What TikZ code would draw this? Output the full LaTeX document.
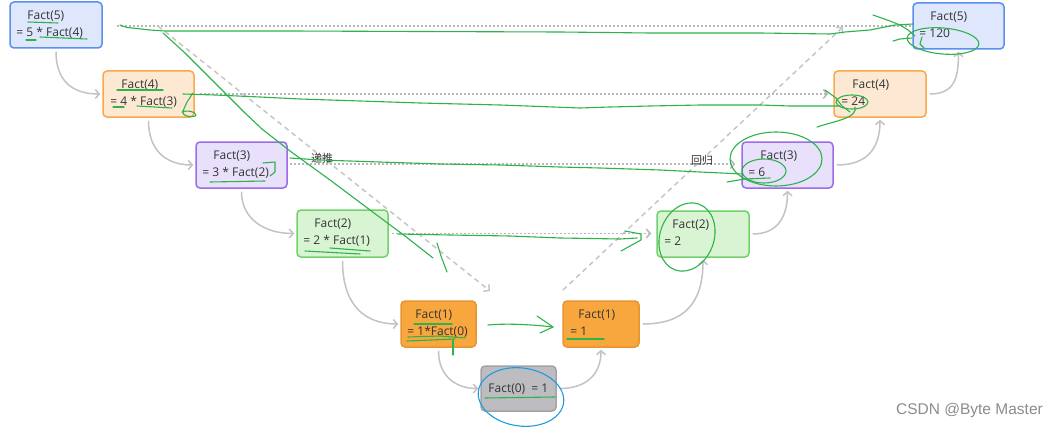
\documentclass[tikz,border=0pt]{standalone}
\usepackage{fontspec}
\setmainfont{Open Sans}
\newfontfamily\cjk{Noto Sans CJK SC}
\newfontfamily\wmfont{Liberation Sans}
\usetikzlibrary{arrows.meta,calc,fit}
\definecolor{bluef}{HTML}{DEE7FC}\definecolor{blued}{HTML}{5B8FF0}
\definecolor{lof}{HTML}{FDE8D3}\definecolor{lod}{HTML}{F8A94B}
\definecolor{purf}{HTML}{E9E0FB}\definecolor{purd}{HTML}{9B6BE8}
\definecolor{grnf}{HTML}{D9F4D3}\definecolor{grnd}{HTML}{73D16B}
\definecolor{orf}{HTML}{F8A63E}\definecolor{ord}{HTML}{E9952F}
\definecolor{gryf}{HTML}{BDBDC1}\definecolor{gryd}{HTML}{A3A3A7}
\definecolor{textc}{HTML}{333333}
\definecolor{conc}{HTML}{C3C3C7}
\definecolor{dotc}{HTML}{B9B9BD}
\definecolor{dashc}{HTML}{C6C6CA}
\definecolor{grn}{HTML}{2DB34A}
\definecolor{blu}{HTML}{1E9BE0}
\newcommand\twolines[5]{%
  \node[txt] (#1a) at ($(#1.north west)+(#2,18)$) {#4};
  \node[txt] (#1b) at ($(#1.north west)+(#3,35)$) {#5};}
\begin{document}
\begin{tikzpicture}[x=1pt,y=-1pt,
  box/.style={draw, rounded corners=4pt, line width=1.5pt, inner sep=0pt},
  bluebox/.style={box, fill=bluef, draw=blued},
  lobox/.style={box, fill=lof, draw=lod},
  purbox/.style={box, fill=purf, draw=purd},
  grnbox/.style={box, fill=grnf, draw=grnd},
  orbox/.style={box, fill=orf, draw=ord},
  grybox/.style={box, fill=gryf, draw=gryd},
  txt/.style={anchor=base west, inner sep=0pt, text=textc, font=\fontsize{12}{14}\selectfont},
  conn/.style={draw=conc, line width=1.5pt, -{Straight Barb[length=4pt,width=9pt]}},
  dotl/.style={draw=dotc, line width=1.5pt, dash pattern=on 1.5pt off 2.5pt},
  dotarrow/.style={dotl, -{Straight Barb[length=4pt,width=9pt]}},
  dashl/.style={draw=dashc, line width=1.5pt, dash pattern=on 5pt off 4pt, -{Straight Barb[length=4pt,width=9pt]}},
  gr/.style={draw=grn, line width=1.1pt, line join=round, line cap=round},
  bl/.style={draw=blu, line width=1.1pt},
  lbl/.style={inner sep=0pt, text=textc, font=\cjk\fontsize{11}{13}\selectfont}]
\useasboundingbox[fill=white] (0,0) rectangle (1050,436);

% ---------- boxes ----------
\node[bluebox, fit={(10,2) (102,48)}] (L5) {};
\node[lobox,   fit={(103,71) (194,117)}] (L4) {};
\node[purbox,  fit={(196,142) (287,188)}] (L3) {};
\node[grnbox,  fit={(297,210) (388,257)}] (L2) {};
\node[orbox,   fit={(401,301) (476,347)}] (L1) {};
\node[grybox,  fit={(481,366) (556,411)}] (L0) {};
\node[orbox,   fit={(563,301) (639,347)}] (R1) {};
\node[grnbox,  fit={(657,211) (749,257)}] (R2) {};
\node[purbox,  fit={(742,142) (833,188)}] (R3) {};
\node[lobox,   fit={(834,71) (926,117)}] (R4) {};
\node[bluebox, fit={(913,3) (1004,49)}] (R5) {};

% ---------- texts ----------
\twolines{L5}{18}{7}{Fact(5)}{= 5 * Fact(4)}
\twolines{L4}{19}{8}{Fact(4)}{= 4 * Fact(3)}
\twolines{L3}{18}{7}{Fact(3)}{= 3 * Fact(2)}
\twolines{L2}{18}{7}{Fact(2)}{= 2 * Fact(1)}
\twolines{L1}{15}{7}{Fact(1)}{= 1*Fact(0)}
\node[txt] (L0a) at ($(L0.north west)+(8,27)$) {Fact(0)\ \ = 1};
\twolines{R1}{16}{8}{Fact(1)}{= 1}
\twolines{R2}{16}{8}{Fact(2)}{= 2}
\twolines{R3}{19}{7}{Fact(3)}{= 6}
\twolines{R4}{19}{8}{Fact(4)}{= 24}
\twolines{R5}{18}{7}{Fact(5)}{= 120}

% ---------- gray curved connectors ----------
\draw[conn] ($(L5.south)+(0,3)$) .. controls ($(L5.south)+(0,32)$) and ($(L4.west)+(-30,0)$) .. ($(L4.west)+(-2,0)$);
\draw[conn] ($(L4.south)+(0,3)$) .. controls ($(L4.south)+(0,32)$) and ($(L3.west)+(-30,0)$) .. ($(L3.west)+(-2,0)$);
\draw[conn] ($(L3.south)+(0,3)$) .. controls ($(L3.south)+(0,30)$) and ($(L2.west)+(-32,0)$) .. ($(L2.west)+(-2,0)$);
\draw[conn] ($(L2.south)+(0,3)$) .. controls ($(L2.south)+(0,48)$) and ($(L1.west)+(-35,0)$) .. ($(L1.west)+(-2,0)$);
\draw[conn] ($(L1.south)+(0,3)$) .. controls ($(L1.south)+(0,28)$) and ($(L0.west)+(-25,0)$) .. ($(L0.west)+(-2,0)$);
\draw[conn] ($(L0.east)+(3,0)$) .. controls ($(L0.east)+(28,0)$) and ($(R1.south)+(0,28)$) .. ($(R1.south)+(0,2)$);
\draw[conn] ($(R1.east)+(3,0)$) .. controls ($(R1.east)+(45,0)$) and ($(R2.south)+(0,45)$) .. ($(R2.south)+(0,2)$);
\draw[conn] ($(R2.east)+(3,0)$) .. controls ($(R2.east)+(28,0)$) and ($(R3.south)+(0,28)$) .. ($(R3.south)+(0,2)$);
\draw[conn] ($(R3.east)+(3,0)$) .. controls ($(R3.east)+(32,0)$) and ($(R4.south)+(0,32)$) .. ($(R4.south)+(0,2)$);
\draw[conn] ($(R4.east)+(3,0)$) .. controls ($(R4.east)+(28,0)$) and ($(R5.south)+(0,28)$) .. ($(R5.south)+(0,2)$);

% ---------- dotted horizontal lines ----------
\coordinate (d1s) at (117,26);
\draw[dotl] (d1s) -- (d1s -| R5.west);
\coordinate (d2s) at (200,94);
\draw[dotarrow] (d2s) -- ($(d2s -| R4.west)+(-5,0)$);
\coordinate (d3s) at (290,164);
\draw[dotarrow] (d3s) -- ($(d3s -| R3.west)+(-6,0)$);
\coordinate (d4s) at (392,233.5);
\draw[dotarrow] (d4s) -- ($(d4s -| R2.west)+(-5,0)$);

% ---------- dashed diagonals ----------
\coordinate (a1) at (158,26);
\coordinate (a2) at (490,291);
\coordinate (b1) at (563,290);
\coordinate (b2) at (843,27);
\draw[dashl] (a1) -- (a2);
\draw[dashl] (b1) -- (b2);

% ---------- labels ----------
\node[lbl] (ltui) at (322,158) {递推};
\node[lbl] (lgui) at (702,160) {回归};

% ---------- green hand-drawn marks ----------
\draw[gr] (120,25) -- (127,27.5) -- (137,28.5) -- (150,30) -- (165,31) -- (290,31) -- (420,31.5) -- (560,32) -- (650,33) -- (760,33) -- (830,34) -- (845,32) -- (870,30) -- (895,25) -- (913,24);
\draw[gr] (873,15) -- (890,21) -- (900,25) -- (908,30) -- (915,36);
\draw[gr] (893,41) -- (900,39) -- (912,38);
\draw[gr] (922,37) -- (920,44) -- (924,48);
\draw[gr, rotate around={-5:(943,41)}] (943,41) ellipse [x radius=36pt, y radius=13pt];

\draw[gr] (163,33) -- (185,53) -- (215,83) -- (245,113) -- (262,129) -- (290,151) -- (330,180) -- (370,210) -- (405,236) -- (433,258);
\draw[gr] (437,243) -- (441,256) -- (447,272);

\draw[gr] (183,94) -- (215,95) -- (260,97) -- (300,99) -- (360,101) -- (420,103) -- (500,105) -- (580,108) -- (610,107) -- (650,106) -- (700,105) -- (760,105) -- (790,106) -- (840,106);
\draw[gr] (193,93) -- (187,102) -- (183,111) .. controls (181,117) and (195,118) .. (196,115) .. controls (195,111) and (186,110) .. (182,112);
\draw[gr] (852,102) ellipse [x radius=16pt, y radius=7pt];
\draw[gr] (825,90) -- (836,98) -- (842,106) -- (850,112);
\draw[gr] (855,107) .. controls (858,118) and (835,121) .. (817,127);

\draw[gr] (290,158) -- (320,160) -- (380,162) -- (440,164) -- (500,165) -- (560,167) -- (600,168) -- (660,170) -- (700,172) -- (743,174);
\draw[gr] (776,159) ellipse [x radius=46pt, y radius=27pt];
\draw[gr] (764,171) ellipse [x radius=22pt, y radius=12pt];
\draw[gr] (727,182) -- (745,179) -- (770,178);
\draw[gr] (263,163) -- (275,162) -- (275,172) -- (270,176);

\draw[gr] (398,234) -- (450,235) -- (510,236) -- (560,238) -- (620,239) -- (637,238);
\draw[gr] (625,231) -- (641,234) -- (641,240) -- (621,251);
\draw[gr, rotate around={-20:(687,237)}] (687,237) ellipse [x radius=27pt, y radius=35pt];

\draw[gr] (488,325) .. controls (510,323) and (535,325) .. (553,327);
\draw[gr] (537,316) -- (553,327) -- (540,333);
\draw[gr] (453,340) -- (453,355);

% underlines
\draw[gr] (28,22) -- (58,23);
\draw[gr] (26,40) -- (36,40);
\draw[gr] (40,37) -- (87,39);
\draw[gr] (117,90) -- (163,90);
\draw[gr] (113,107) -- (124,107);
\draw[gr] (137,106) -- (172,108);
\draw[gr] (210,182) -- (265,181);
\draw[gr] (305,251) -- (360,254);
\draw[gr] (330,248) -- (370,251);
\draw[gr] (414,324) -- (452,324);
\draw[gr] (408,337) -- (440,336) -- (465,338);
\draw[gr] (407,341) -- (455,339);
\draw[gr] (567,339) -- (604,339);
\draw[gr] (485,398) -- (555,397);

% blue ellipse
\draw[bl, rotate around={-8:(521,397)}] (521,397) ellipse [x radius=43pt, y radius=29pt];

% watermark
\node[anchor=base east, inner sep=0pt, text=black!45, font=\wmfont\fontsize{15.5}{17}\selectfont] (wm) at (1043,414) {CSDN @Byte Master};
\end{tikzpicture}
\end{document}
